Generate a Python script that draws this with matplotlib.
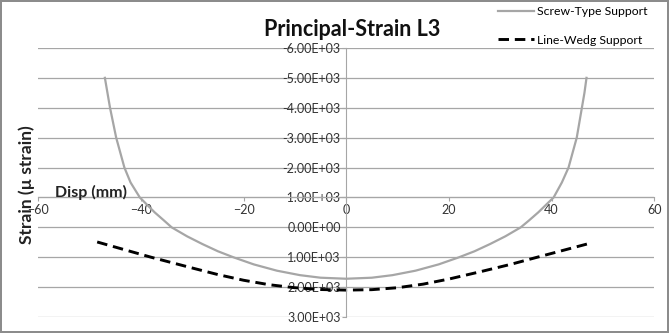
import matplotlib
matplotlib.use("Agg")
import matplotlib.pyplot as plt

plt.rcParams['font.family'] = ['Lato', 'DejaVu Sans']

# Screw-Type Support (grey solid)
screw_x = [-47, -46.5, -46, -44.8, -43.2, -42, -40.2, -37.3, -35.5, -34, -31, -28, -25, -22, -18, -13.5, -9, -5, 0,
           5, 9, 13.5, 18, 22, 25, 28, 31, 34, 35.6, 37.4, 40.4, 42, 43.3, 44.9, 45.9, 46.4, 46.8]
screw_y = [-5000, -4500, -4000, -3000, -2000, -1500, -1000, -500, -230, 0, 300, 560, 800, 1000, 1240, 1450, 1600, 1685, 1720,
           1685, 1600, 1450, 1240, 1000, 800, 560, 300, 0, -230, -500, -1000, -1500, -2000, -3000, -4000, -4500, -5000]

# Line-Wedg Support (black dashed)
wedg_x = [-48.5, -38, -30, -25, -20, -15, -10, -5, 0, 5, 10, 15, 20, 26, 32, 37.2, 47.2]
wedg_y = [490, 1000, 1360, 1580, 1770, 1920, 2020, 2080, 2100, 2085, 2020, 1900, 1730, 1490, 1240, 1000, 545]

yticks = [-6000, -5000, -4000, -3000, -2000, -1000, 0, 1000, 2000, 3000]
xticks = [-60, -40, -20, 0, 20, 40, 60]

fig = plt.figure(figsize=(6.69, 3.33), dpi=100)
fig.patch.set_facecolor('white')
fig.patch.set_edgecolor('#8c8c8c')
fig.patch.set_linewidth(1.5)
ax = fig.add_axes([0.057, 0.048, 0.921, 0.808])

ax.plot(screw_x, screw_y, color='#a6a6a6', lw=1.6, label='Screw-Type Support')
ax.plot(wedg_x, wedg_y, color='black', lw=2.1, ls=(0, (3.6, 2.0)), label='Line-Wedg Support')

ax.set_xlim(-60, 60)
ax.set_ylim(3000, -6000)
ax.set_yticks(yticks)
ax.set_xticks(xticks)
ax.set_yticklabels(['%.2E' % v for v in yticks])
ax.grid(axis='y', color='#a6a6a6', lw=0.9)
ax.set_axisbelow(True)

for s in ['top', 'right']:
    ax.spines[s].set_visible(False)
ax.spines['left'].set_position(('data', 0))
ax.spines['bottom'].set_position(('data', -1000))
ax.spines['left'].set_color('#a6a6a6')
ax.spines['bottom'].set_color('#a6a6a6')
ax.tick_params(axis='both', colors='#a6a6a6', length=3, labelcolor='#333333', labelsize=9)
ax.tick_params(axis='y', pad=1)
ax.tick_params(axis='x', pad=2)

ax.text(-56.8, -1030, 'Disp (mm)', fontsize=11.5, fontweight='bold', color='#222222', va='baseline', ha='left')
fig.text(0.040, 0.447, 'Strain (\u00b5 strain)', rotation=90, fontsize=12.5, fontweight='bold',
         color='#222222', ha='center', va='center')
fig.text(0.527, 0.91, 'Principal-Strain L3', fontsize=15.5, fontweight='bold', ha='center', va='center',
         color='#111111')

fig.legend(loc='upper right', bbox_to_anchor=(0.985, 1.015), frameon=False, fontsize=8.8,
           handlelength=2.9, labelspacing=1.45, handletextpad=0.3)

fig.savefig('out.png', dpi=100)
